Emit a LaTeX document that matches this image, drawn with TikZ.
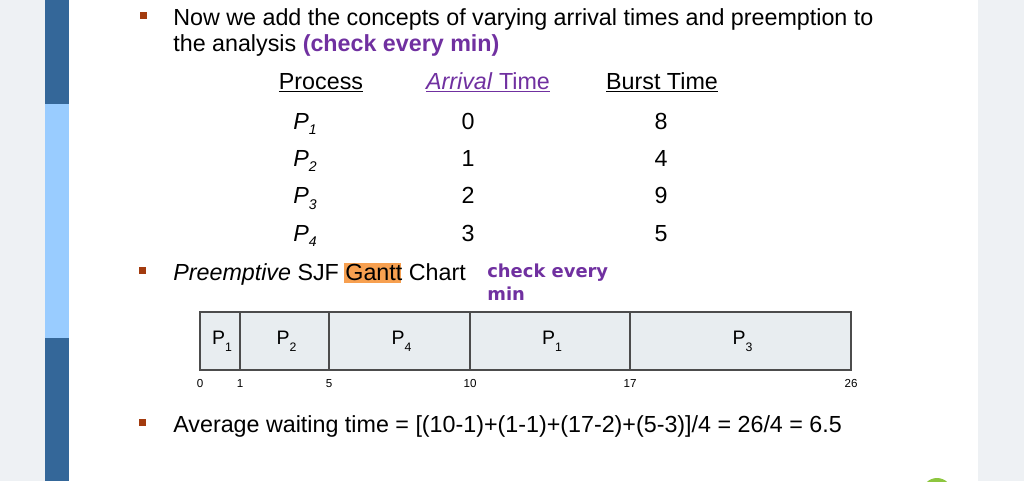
\documentclass[tikz,border=0pt]{standalone}
\usepackage{fontspec}
\setmainfont{Liberation Sans}
\newfontfamily\verdfont{DejaVu Sans}
\definecolor{bardark}{HTML}{346799}
\definecolor{barlight}{HTML}{99CCFF}
\definecolor{sidegray}{HTML}{EEF1F4}
\definecolor{bulbrown}{HTML}{A33B0E}
\definecolor{notepurple}{HTML}{7030A0}
\definecolor{ganttfill}{HTML}{E8EDF0}
\definecolor{hilite}{HTML}{F7A050}
\definecolor{blobgreen}{HTML}{8DC63F}
\newcommand{\psub}[2]{#1\raisebox{-0.45ex}{\fontsize{8}{8}\selectfont #2}}
\newcommand{\gsub}[2]{#1\raisebox{-4.3pt}{\fontsize{7}{7}\selectfont #2}}
\begin{document}
\begin{tikzpicture}[x=0.02cm,y=-0.02cm,
  bul/.style={fill=bulbrown,minimum size=0.14cm,inner sep=0pt},
  body/.style={anchor=base west,inner sep=0pt,font=\fontsize{13.25}{15.9}\selectfont},
  cell/.style={anchor=base,inner sep=0pt,font=\fontsize{11.1}{13}\selectfont},
  tick/.style={anchor=base,inner sep=0pt,font=\fontsize{6.6}{8}\selectfont}]
  \useasboundingbox (0,0) rectangle (1024,481);
  % side strips
  \fill[sidegray] (0,0) rectangle (45,481);
  \fill[sidegray] (978,0) rectangle (1024,481);
  \fill[bardark] (45,0) rectangle (69,104);
  \fill[barlight] (45,104) rectangle (69,338);
  \fill[bardark] (45,338) rectangle (69,481);
  \begin{scope}
    \clip (0,0) rectangle (1024,481);
    \fill[blobgreen] (937,493) circle (15);
  \end{scope}

  % bullets
  \node[bul] (b1) at (143,15) {};
  \node[bul] (b2) at (142,270) {};
  \node[bul] (b3) at (142,422) {};

  \node[body] (line1) at (173,25) {Now we add the concepts of varying arrival times and preemption to};
  \node[body] (line2) at (173,51) {the analysis \textcolor{notepurple}{\bfseries(check every min)}};

  % table
  \node[body,anchor=base] (hproc) at (321,89) {\underline{Process}};
  \node[body,anchor=base,text=notepurple] (harr) at (488,89) {\underline{\textit{Arrival} Time}};
  \node[body,anchor=base] (hbur) at (662,89) {\underline{Burst Time}};
  \foreach \i/\a/\b [count=\r from 0] in {1/0/8,2/1/4,3/2/9,4/3/5} {
    \node[body] (p\i) at (293,129+37.4*\r) {\textit{\psub{P}{\i}}};
    \node[body,anchor=base] (a\i) at (468,129+37.4*\r) {\a};
    \node[body,anchor=base] (t\i) at (661,129+37.4*\r) {\b};
  }

  % gantt heading
  \fill[hilite] (344,263) rectangle (401,283);
  \node[body] (line3) at (173,280) {\textit{Preemptive} SJF Gantt Chart};
  \node[anchor=base west,inner sep=0pt,text=notepurple,
        font=\verdfont\bfseries\fontsize{10.2}{12.2}\selectfont] (note1) at (487,277) {check every};
  \node[anchor=base west,inner sep=0pt,text=notepurple,
        font=\verdfont\bfseries\fontsize{10.2}{12.2}\selectfont] (note2) at (487,300) {min};

  % gantt chart
  \foreach \xa/\xb/\p/\s in {200/240/P/1,240/329/P/2,329/470/P/4,470/630/P/1,630/851/P/3} {
    \draw[fill=ganttfill,draw=black!70,line width=0.7pt] (\xa,312) rectangle (\xb,370);
    \node[cell] (g\xa) at ({(\xa+\xb)/2+2},344) {\gsub{\p}{\s}};
  }
  \foreach \t/\x in {0/200,1/240,5/329,10/470,17/630,26/851}
    \node[tick] (tk\t) at (\x,387) {\t};

  \node[body] (line4) at (173,432) {Average waiting time = [(10-1)+(1-1)+(17-2)+(5-3)]/4 = 26/4 = 6.5};
\end{tikzpicture}
\end{document}
